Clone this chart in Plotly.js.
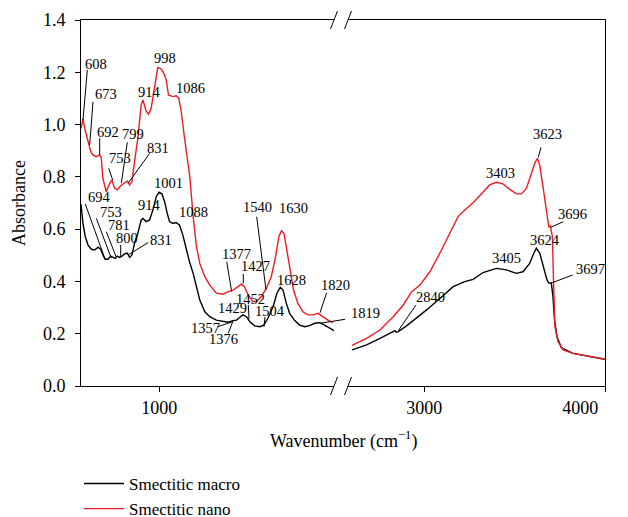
<!DOCTYPE html>
<html>
<head>
<meta charset="utf-8">
<script src="https://cdn.plot.ly/plotly-3.0.1.min.js"></script>
<style>html,body{margin:0;padding:0;background:#fff;}#chart{width:628px;height:517px;}</style>
</head>
<body>
<div id="chart"></div>
<script>
// ---- Data ----
const seriesNames = ["Smectitic macro", "Smectitic nano"];

// Low-wavenumber region (left panel)
const macroLowWn = [600,610,622,636,653,670,687,701,712,724,738,752,764,775,786,798,810,823,837,849,861,874,891,908,917,934,951,968,985,999,1014,1028,1041,1053,1070,1087,1104,1121,1138,1155,1174,1191,1208,1234,1259,1293,1327,1353,1378,1396,1416,1429,1447,1464,1489,1515,1535,1557,1583,1603,1620,1634,1651,1668,1694,1719,1745,1770,1796,1821,1847,1872,1895];
const macroLowAbs = [0.695,0.622,0.571,0.539,0.523,0.520,0.531,0.523,0.501,0.485,0.485,0.497,0.492,0.488,0.497,0.492,0.497,0.505,0.508,0.492,0.501,0.546,0.584,0.635,0.641,0.629,0.635,0.673,0.724,0.741,0.735,0.705,0.661,0.629,0.622,0.625,0.616,0.578,0.527,0.476,0.431,0.380,0.329,0.284,0.265,0.252,0.246,0.244,0.250,0.252,0.265,0.272,0.265,0.246,0.230,0.227,0.233,0.259,0.303,0.355,0.378,0.367,0.316,0.278,0.250,0.233,0.227,0.231,0.240,0.242,0.233,0.221,0.212];

const nanoLowWn = [600,610,619,636,650,661,678,695,704,712,724,729,747,758,772,786,803,820,837,849,861,874,891,908,917,934,946,959,977,993,1010,1024,1036,1048,1070,1087,1101,1113,1130,1147,1157,1166,1174,1191,1208,1234,1259,1293,1327,1353,1378,1404,1421,1438,1455,1480,1498,1523,1549,1574,1596,1613,1626,1639,1654,1668,1688,1710,1736,1762,1787,1813,1838,1864,1889];
const nanoLowAbs = [0.985,1.022,0.986,0.935,0.896,0.884,0.877,0.884,0.871,0.794,0.750,0.743,0.775,0.788,0.756,0.750,0.766,0.775,0.784,0.769,0.782,0.858,0.948,1.075,1.094,1.050,1.040,1.062,1.151,1.218,1.213,1.196,1.171,1.113,1.107,1.110,1.100,1.050,0.948,0.845,0.800,0.720,0.648,0.533,0.469,0.418,0.386,0.355,0.351,0.361,0.367,0.380,0.390,0.378,0.348,0.323,0.323,0.342,0.374,0.418,0.495,0.571,0.594,0.584,0.520,0.444,0.367,0.316,0.284,0.272,0.272,0.278,0.265,0.252,0.242];

// High-wavenumber region (right panel)
const macroHighWn = [2600,2681,2755,2830,2838,2845,2856,2902,2957,3013,3086,3160,3224,3270,3325,3399,3455,3510,3546,3583,3606,3620,3639,3661,3679,3690,3703,3712,3721,3734,3758,3823,3915,4000];
const macroHighAbs = [0.138,0.157,0.182,0.207,0.212,0.206,0.208,0.230,0.259,0.291,0.335,0.380,0.399,0.408,0.434,0.450,0.444,0.431,0.437,0.469,0.508,0.527,0.508,0.456,0.406,0.393,0.395,0.342,0.252,0.189,0.147,0.125,0.112,0.102];

const nanoHighWn = [2600,2681,2755,2828,2884,2930,2976,3031,3086,3141,3187,3224,3270,3317,3362,3399,3436,3473,3510,3538,3565,3593,3611,3626,3639,3657,3676,3689,3698,3709,3716,3723,3740,3768,3823,3915,4000];
const nanoHighAbs = [0.155,0.182,0.214,0.265,0.310,0.361,0.386,0.437,0.508,0.584,0.648,0.673,0.701,0.735,0.769,0.779,0.773,0.752,0.735,0.735,0.756,0.814,0.852,0.871,0.845,0.762,0.673,0.609,0.612,0.571,0.380,0.227,0.170,0.138,0.125,0.112,0.102];

// Tick labels
const leftTicks = [1000];
const rightTicks = [3000, 4000];
const yTicks = [0, 0.2, 0.4, 0.6, 0.8, 1.0, 1.2, 1.4];

// Peak label texts
const peakLabels = ["608","673","692","753","799","831","914","998","1086","1377","1427","1540","1630","1820","3403","3623","3696",
                    "694","753","781","800","831","914","1001","1088","1357","1376","1429","1452","1504","1628","1819","2840","3405","3624","3697"];

// ---- Layout helpers (reference pixel geometry of the plot frame) ----
const PL = 81, PR = 605, PT = 20, PB = 386;
const PW = PR - PL, PH = PB - PT;
const px = x => (x - PL) / PW;
const py = y => (PB - y) / PH;

// label placement: [textX, textY, lineStartX, lineStartY, tipX, tipY] (pixels), same order as peakLabels
const labelPos = [
  [96.3,64.3, 87.3,70, 83,120],
  [105.7,94.3, 93,101.7, 89.7,145],
  [108,131.7, 99.7,138.3, 99.7,155],
  [119.7,158.3, 108.7,168.3, 112.7,180],
  [133,134.3, 127.3,142.3, 121.3,183.3],
  [158,147.7, 149.7,153.3, 128,183.3],
  [149,92],
  [165,58],
  [190,88],
  [236,254.3, 226.7,261.7, 231.7,291.7],
  [255.7,266, 243.3,274, 243.3,283.3],
  [257.7,206.7, 256.7,216.7, 266,290],
  [293.3,208.3],
  [335,285, 326.7,292.7, 320,312.7],
  [500,173.3],
  [547.7,134, 541,147.3, 538.3,157.3],
  [572.3,214.3, 563.3,221.7, 550.7,227.3],
  [99.7,196.7, 85.3,204, 105,259],
  [111.3,211.7, 96.3,218.3, 111.3,258.3],
  [118.7,225, 106.3,231.7, 116.3,257.3],
  [127.3,237.7, 120.7,245, 120.7,256],
  [160.7,240, 148,242.7, 128,255],
  [149,205],
  [168,183.3],
  [193,212],
  [205,328.3, 217.7,326.7, 232.7,321.7],
  [223.3,339.3, 228.3,333.3, 233.3,320],
  [232.3,308.3],
  [250,299, 248.3,305, 249,319],
  [270,310.7, 265,317, 264,326.7],
  [291,280],
  [365.7,313.3, 345,319.3, 320,323.3],
  [430,296.7, 416,305, 398.3,330.7],
  [506,257.7],
  [545,240],
  [590.7,269, 572.7,275, 552.3,282.7]
];

const FONT = "Liberation Serif";
const RED = "rgb(237,28,36)";

const traces = [
  {x: macroLowWn, y: macroLowAbs, xaxis:"x", yaxis:"y", type:"scatter", mode:"lines",
   name: seriesNames[0], legendgroup:"macro", line:{color:"black", width:1.4}},
  {x: macroHighWn, y: macroHighAbs, xaxis:"x2", yaxis:"y2", type:"scatter", mode:"lines",
   name: seriesNames[0], legendgroup:"macro", showlegend:false, line:{color:"black", width:1.4}},
  {x: nanoLowWn, y: nanoLowAbs, xaxis:"x", yaxis:"y", type:"scatter", mode:"lines",
   name: seriesNames[1], legendgroup:"nano", line:{color:RED, width:1.4}},
  {x: nanoHighWn, y: nanoHighAbs, xaxis:"x2", yaxis:"y2", type:"scatter", mode:"lines",
   name: seriesNames[1], legendgroup:"nano", showlegend:false, line:{color:RED, width:1.4}}
];

const leftEnd = px(334), rightStart = px(348);

const annotations = [];
const shapes = [];
peakLabels.forEach((t, i) => {
  const p = labelPos[i];
  annotations.push({text:t, xref:"paper", yref:"paper", x:px(p[0]), y:py(p[1]),
    xanchor:"center", yanchor:"middle", showarrow:false, font:{family:FONT, size:14.5, color:"black"}});
  if (p.length > 2) {
    shapes.push({type:"line", xref:"paper", yref:"paper", x0:px(p[2]), y0:py(p[3]), x1:px(p[4]), y1:py(p[5]),
      line:{color:"black", width:1}});
  }
});
// x-axis title spanning both panels
annotations.push({text:"Wavenumber (cm<sup>−1</sup>)", xref:"paper", yref:"paper", x:0.5, y:py(440),
  xanchor:"center", yanchor:"middle", showarrow:false, font:{family:FONT, size:18, color:"black"}});

// axis-break slashes (bottom and top)
const sdx = 3.5 / PW, sdy = 9 / PH;
[leftEnd, rightStart].forEach(xb => {
  [0, 1].forEach(yb => {
    shapes.push({type:"line", xref:"paper", yref:"paper", x0:xb - sdx, y0:yb - sdy, x1:xb + sdx, y1:yb + sdy,
      line:{color:"black", width:1}});
  });
});

function axisCommon() {
  return {showline:true, linecolor:"black", linewidth:1, showgrid:false, zeroline:false,
    ticks:"outside", ticklen:5, tickwidth:1, tickcolor:"black", ticklabeloverflow:"allow",
    tickfont:{family:FONT, size:18, color:"black"}};
}

// last tick label sits flush with the right end of the axis, as in the reference
const pad = "\u00a0".repeat(11);
const rightTickText = rightTicks.map((v, i) => i === rightTicks.length - 1 ? String(v) + pad : String(v));

const layout = {
  width:628, height:517,
  margin:{l:PL, r:628-PR, t:PT, b:517-PB, pad:0, autoexpand:false},
  paper_bgcolor:"white", plot_bgcolor:"white",
  font:{family:FONT, color:"black"},
  showlegend:true,
  legend:{x:px(79), y:py(466), xanchor:"left", yanchor:"top", orientation:"v", itemwidth:40,
    font:{family:FONT, size:17, color:"black"}, bgcolor:"rgba(0,0,0,0)", borderwidth:0, tracegroupgap:0},
  xaxis: Object.assign(axisCommon(), {domain:[0, leftEnd], range:[600, 1895], tickvals:leftTicks,
    ticktext:leftTicks.map(String), mirror:true, anchor:"y", automargin:false}),
  xaxis2: Object.assign(axisCommon(), {domain:[rightStart, 1], range:[2578, 4000], tickvals:rightTicks,
    ticktext:rightTickText, mirror:true, anchor:"y", automargin:false}),
  yaxis: Object.assign(axisCommon(), {range:[0, 1.4], tickvals:yTicks, ticktext:yTicks.map(v => v.toFixed(1)),
    anchor:"x", ticklabelstandoff:6, automargin:false,
    title:{text:"Absorbance", font:{family:FONT, size:18, color:"black"}, standoff:12}}),
  yaxis2: {matches:"y", range:[0, 1.4], anchor:"x2", side:"right", overlaying:"y", showline:true, linecolor:"black",
    linewidth:1, showticklabels:false, ticks:"", showgrid:false, zeroline:false},
  annotations: annotations,
  shapes: shapes
};

Plotly.newPlot("chart", traces, layout, {displayModeBar:false, staticPlot:true});
</script>
</body>
</html>
